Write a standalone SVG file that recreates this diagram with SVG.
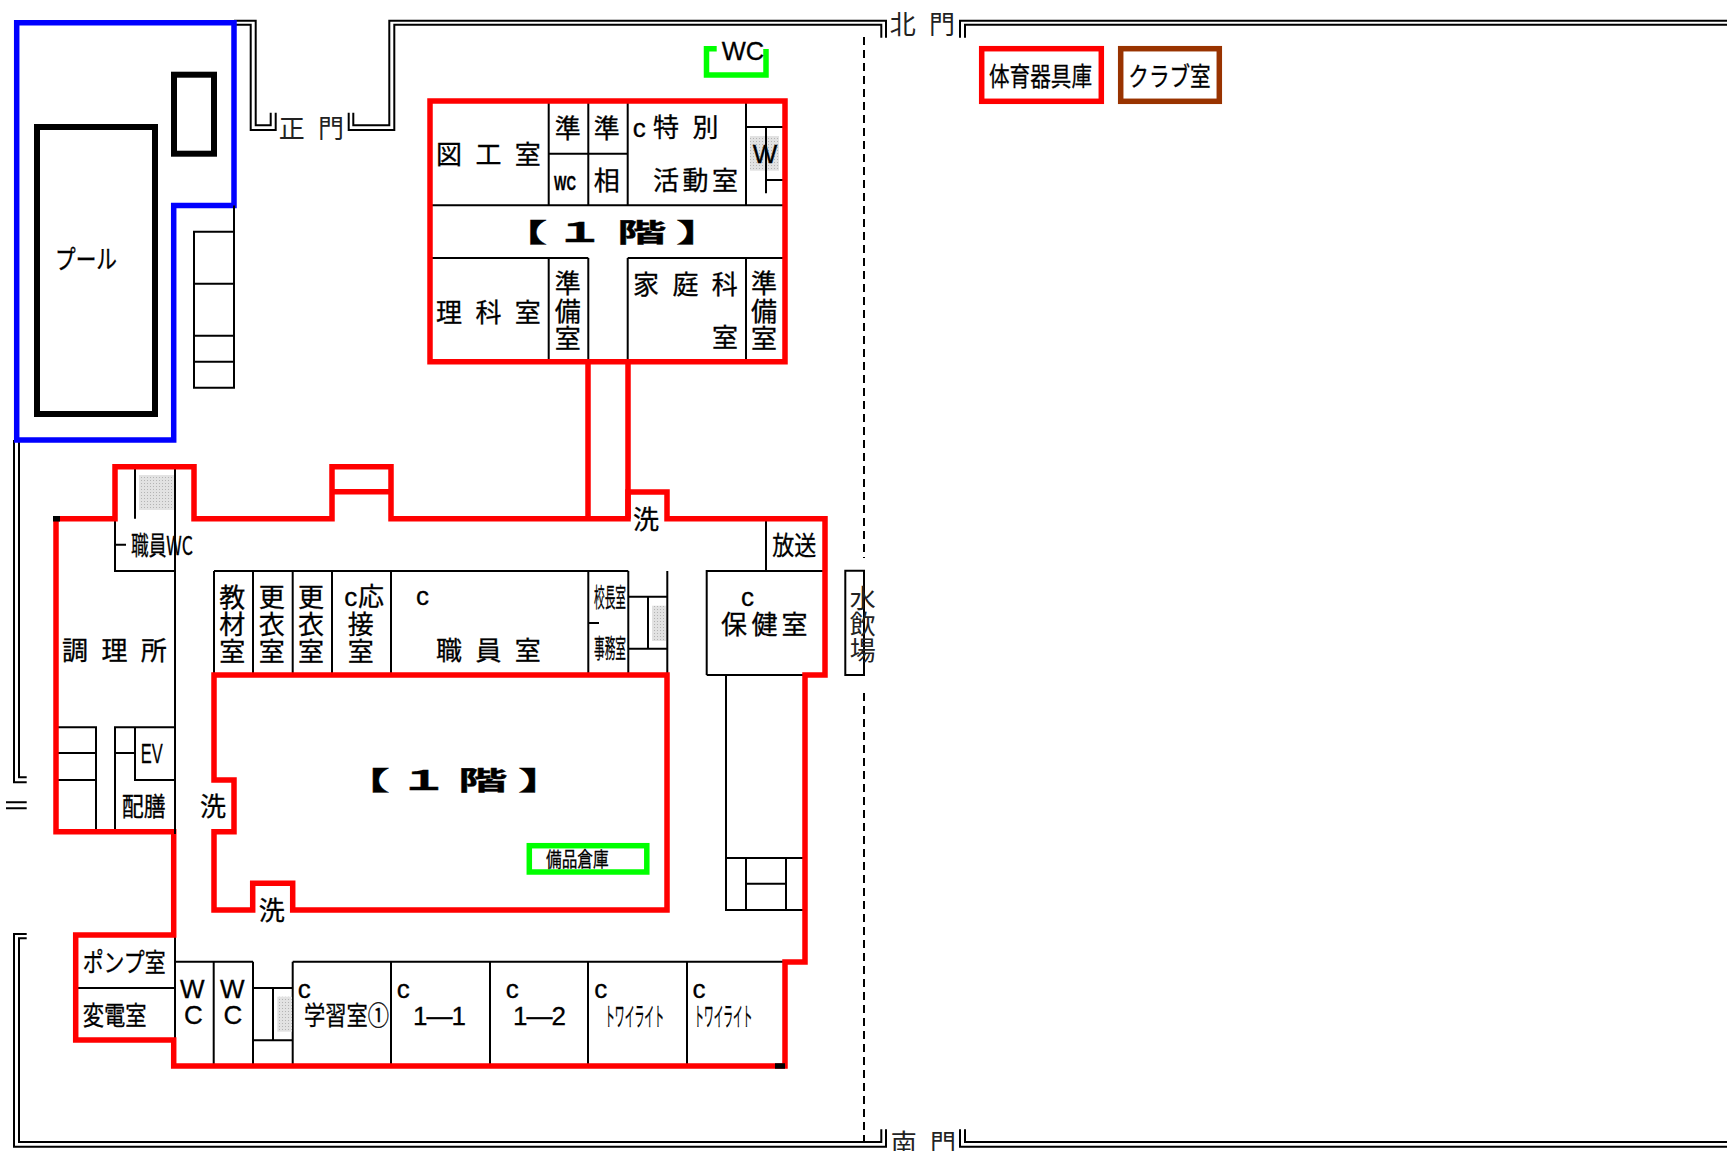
<svg xmlns="http://www.w3.org/2000/svg" width="1727" height="1151" viewBox="0 0 1727 1151">
<style>
text{font-family:"Noto Sans CJK JP","Noto Sans",sans-serif;font-size:26px;fill:#000;stroke:#000;stroke-width:.3}
.s{letter-spacing:3.8px}
.l{font-family:"Liberation Sans",Arial,sans-serif}
.t{fill:#222;stroke:none}
.b{font-weight:700}
.k{fill:none;stroke:#000;stroke-width:2}
.d{fill:none;stroke:#000;stroke-width:2}
.r{fill:none;stroke:#f00;stroke-width:5.5;stroke-linejoin:miter}
.u{fill:none;stroke:#00f;stroke-width:5.5}
.g{fill:none;stroke:#0f0;stroke-width:5.5}
.n{fill:none;stroke:#000;stroke-width:6}
.h{fill:url(#dots)}
</style>
<defs>
<pattern id="dots" width="3" height="3" patternUnits="userSpaceOnUse"><rect width="3" height="3" fill="#e2e2e2"/><rect width="1" height="1" fill="#b4b4b4"/></pattern>
</defs>
<rect width="1727" height="1151" fill="#fff"/>

<g id="site-walls">
<path class="d" d="M234 20.7H255.7V125.3H270.7V112.7M234 24.7H250.7V130H275.7V112.7"/>
<path class="d" d="M348.7 112.7V130H394.3V24.7H881.3V37.7M353.3 112.7V125.3H389.3V20.7H886V37.7"/>
<path class="d" d="M960 37.7V20.7H1727M965 37.7V24.7H1727"/>
<path class="d" d="M14 440V782.3H26.7M19 440V777.3H26.7M6 802.3H26.7M6 808.3H26.7"/>
<path class="d" d="M26.7 934H14V1146.7H886V1129.3M26.7 938.3H19V1142H881.3V1129.3"/>
<path class="d" d="M960 1129.3V1146.7H1727M965 1129.3V1142H1727"/>
<path d="M864 37V558M864 693V1142" fill="none" stroke="#000" stroke-width="2" stroke-dasharray="8 5"/>
</g>

<g id="pool-area">
<path class="u" d="M16.7 22.7H234V205.5H173.7V440H16.7Z"/>
<rect class="n" x="37" y="127" width="118" height="287"/>
<rect class="n" x="174" y="74.7" width="40" height="79"/>
<path class="k" d="M234 205.5V387.7H194V231.7H234M194 283.7H234M194 335.7H234M194 361.7H234"/>
<text x="55" y="268.5" textLength="62" lengthAdjust="spacingAndGlyphs">プール</text>
</g>

<g id="gates">
<text class="s t" x="278.7" y="138">正 門</text>
<text class="s t" x="889.7" y="34">北 門</text>
<text class="s t" x="890.7" y="1153">南 門</text>
</g>

<g id="upper-wc">
<path class="g" d="M716.7 48.7H706.5V75H766V49"/>
<text class="l" x="721.7" y="60" textLength="42.5" lengthAdjust="spacingAndGlyphs">WC</text>
</g>

<g id="storage-sports">
<rect class="r" x="981.7" y="48.7" width="119.6" height="52.6"/>
<text x="989" y="86" textLength="103" lengthAdjust="spacingAndGlyphs">体育器具庫</text>
</g>
<g id="club-room">
<rect x="1120.7" y="48.7" width="98.6" height="52.6" fill="none" stroke="#930" stroke-width="5.5"/>
<text x="1128.3" y="86" textLength="82.4" lengthAdjust="spacingAndGlyphs">クラブ室</text>
</g>

<g id="upper-building">
<path class="k" d="M548.7 101V205.3M588.3 101V205.3M627.7 101V205.3M746 101V205.3M430 205.3H785M430 258H588.3M627.7 258H785M548.7 258V361.7M588.3 258V361.7M627.7 258V361.7M746 258V361.7M548.7 153.7H627.7M746 127H785"/>
<rect class="h" x="750" y="136" width="29" height="34.7"/>
<path class="k" d="M766 127V193.3M766 180H785"/>
<path class="r" d="M430 101H785V361.7H430Z"/>
<text class="s" x="436" y="164">図 工 室</text>
<text x="554.7" y="138">準</text>
<text x="593.7" y="138">準</text>
<text class="l b" x="554" y="190" textLength="22" lengthAdjust="spacingAndGlyphs" style="font-size:20px">WC</text>
<text x="593.7" y="190">相</text>
<text x="632.7" y="137.3"><tspan class="l">c</tspan><tspan class="s" x="653">特 別</tspan></text>
<text x="653" y="190" style="letter-spacing:3.5px">活動室</text>
<text class="l" x="752.7" y="163">W</text>
<text class="b" transform="scale(1.9 1)" x="262.1 280 292.1 310 324.7 340 355.8" y="242">【 １ 階 】</text>
<text class="s" x="436" y="321.7">理 科 室</text>
<text x="554.7 554.7 554.7" y="293 321 348">準備室</text>
<text class="s" x="633" y="294">家 庭 科</text>
<text x="712" y="347">室</text>
<text x="751 751 751" y="293 321 348">準備室</text>
</g>

<g id="main-building">
<path class="r" d="M588 361.7V518.7M628 361.7V518.7"/>
<path class="k" d="M115 518.7V571H175M115 544.7H126M135 466.7V518.7M175 466.7V831.7"/>
<rect class="h" x="139" y="475" width="35" height="35"/>
<path class="k" d="M56 727.3H96V831.7M56 753H96M56 780H96M115 831.7V727.3H175M115 753H135M135 727.3V780H175"/>
<path class="k" d="M214 571H628.3M214 571V675M253 571V675M292.7 571V675M332 571V675M391 571V675M588.3 571V675M628.3 571V675M588.3 623H599M667.3 571V675M628.3 596.7H667.3M628.3 648.7H667.3M648 596.7V648.7"/>
<rect class="h" x="652" y="605.7" width="14" height="35.3"/>
<path class="k" d="M706.7 675V571H825M706.7 675H805M766 518.7V571M726 675V910H805M726 858H805M746 858V910M786 858V910M746 883.7H786"/>
<path class="k" d="M845.3 675V570.7H864V675Z"/>
<path class="k" d="M175 935V1040M75.7 988H175M175 961.7H253M292.7 961.7H785M213.7 961.7V1066M253 961.7V1066M253 988H292.7M253 1040.3H292.7M273 988V1040.3M292.7 961.7V1066M391 961.7V1066M490 961.7V1066M588 961.7V1066M687 961.7V1066"/>
<rect class="h" x="277.3" y="996.7" width="14.7" height="35"/>
<path class="r" d="M56 518.7H115V466.7H194V518.7H332V466.7H391V518.7H628V492H667V518.7H825V675H805V962H785V1066H173.7V1040H75.7V935H173.7V831.7H56Z"/>
<path class="r" d="M332 491.7H391"/>
<path class="r" d="M214 675H667V910H292.7V883.3H252.7V910H214V831.7H234V780H214Z"/>
<path class="k" d="M175 515V522M175 829V834"/>
<path d="M53 516H60V521.5H53ZM775 1063.3H785V1068.8H775Z" fill="#000"/>
<text x="131" y="555" textLength="62" lengthAdjust="spacingAndGlyphs">職員WC</text>
<text class="s" x="62" y="660">調 理 所</text>
<text class="l" x="140.7" y="763" textLength="22" lengthAdjust="spacingAndGlyphs" style="font-size:28px">EV</text>
<text x="121.7" y="816" textLength="44" lengthAdjust="spacingAndGlyphs">配膳</text>
<text x="200" y="816">洗</text>
<text x="219.3 219.3 219.3" y="607 634 661">教材室</text>
<text x="258.7 258.7 258.7" y="607 634 661">更衣室</text>
<text x="298 298 298" y="607 634 661">更衣室</text>
<text x="344.3" y="606"><tspan class="l">c</tspan><tspan x="358">応</tspan><tspan x="347.7" y="634">接</tspan><tspan x="347.7" y="661">室</tspan></text>
<text class="l" x="416" y="605.3">c</text>
<text class="s" x="436" y="660">職 員 室</text>
<text x="594" y="607" textLength="32" lengthAdjust="spacingAndGlyphs">校長室</text>
<text x="594" y="658" textLength="32" lengthAdjust="spacingAndGlyphs">事務室</text>
<text x="633" y="529">洗</text>
<text x="772.3" y="555" textLength="44" lengthAdjust="spacingAndGlyphs">放送</text>
<text class="l" x="741" y="605.7">c</text>
<text x="721 751.5 781.5" y="634">保健室</text>
<text class="t" x="849.7 849.7 849.7" y="608 634 660">水飲場</text>
<text x="258.7" y="920">洗</text>
<text class="b" transform="scale(1.9 1)" x="179.2 197 210 225 241 257 272.6" y="790">【 １ 階 】</text>
<g id="bihin-store">
<rect class="g" x="529.3" y="845.7" width="117.5" height="26.3"/>
<text x="546" y="867" textLength="62.6" lengthAdjust="spacingAndGlyphs" style="font-size:20px">備品倉庫</text>
</g>
<text x="82.7" y="972" textLength="83" lengthAdjust="spacingAndGlyphs">ポンプ室</text>
<text x="82.7" y="1025" textLength="64" lengthAdjust="spacingAndGlyphs">変電室</text>
<text class="l" x="180 184" y="998 1024">WC</text>
<text class="l" x="220 223.5" y="998 1024">WC</text>
<text class="l" x="297.7" y="998">c</text>
<text x="304" y="1025" textLength="85" lengthAdjust="spacingAndGlyphs">学習室①</text>
<text class="l" x="396.7" y="998">c</text>
<text class="l" x="413" y="1025" textLength="53">1—1</text>
<text class="l" x="505.7" y="998">c</text>
<text class="l" x="513" y="1025" textLength="53">1—2</text>
<text class="l" x="594.3" y="998">c</text>
<text x="605" y="1026" textLength="59" lengthAdjust="spacingAndGlyphs">トワイライト</text>
<text class="l" x="692.5" y="998">c</text>
<text x="694.3" y="1026" textLength="58" lengthAdjust="spacingAndGlyphs">トワイライト</text>
</g>
</svg>
